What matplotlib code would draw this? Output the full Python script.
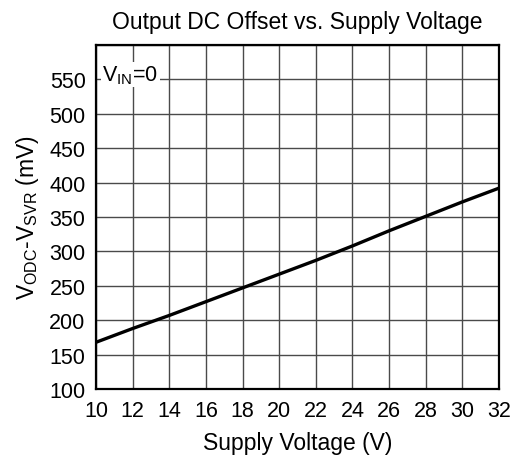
import matplotlib.pyplot as plt

plt.rcParams['font.family'] = ['Liberation Sans', 'DejaVu Sans']

# datos
supply_v = [10, 12, 14, 16, 18, 20, 22, 24, 26, 28, 30, 32]
offset_mv = [168, 188, 207, 227, 247, 267, 287, 308, 330, 351, 372, 392]

x_ticks = [10, 12, 14, 16, 18, 20, 22, 24, 26, 28, 30, 32]
y_ticks = [100, 150, 200, 250, 300, 350, 400, 450, 500, 550, 600]
y_labels = ['100', '150', '200', '250', '300', '350', '400', '450', '500', '550', '']

fig = plt.figure(figsize=(5.16, 4.60), dpi=100)
ax = fig.add_axes([0.186, 0.152, 0.781, 0.748])

ax.plot(supply_v, offset_mv, color='black', linewidth=2.4, zorder=3)

ax.set_xlim(10, 32)
ax.set_ylim(100, 600)
ax.set_xticks(x_ticks)
ax.set_yticks(y_ticks)
ax.set_yticklabels(y_labels)
ax.tick_params(length=0, labelsize=15.5)
ax.tick_params(axis='x', pad=8)
ax.tick_params(axis='y', pad=7.5)
ax.grid(True, color='#4a4a4a', linewidth=1.0)

for s in ax.spines.values():
    s.set_linewidth(1.6)

ax.set_title("Output DC Offset vs. Supply Voltage", fontsize=16.5, pad=12)
ax.set_xlabel("Supply Voltage (V)", fontsize=16.5, labelpad=7)
ax.set_ylabel("V$_{\\mathregular{ODC}}$-V$_{\\mathregular{SVR}}$ (mV)", fontsize=16.5, labelpad=6)

ax.text(10.35, 557, "V$_{\\mathregular{IN}}$=0", fontsize=15.5, va='center', ha='left',
        bbox=dict(facecolor='white', edgecolor='none', pad=1), zorder=4)

plt.savefig("out.png", dpi=100)
